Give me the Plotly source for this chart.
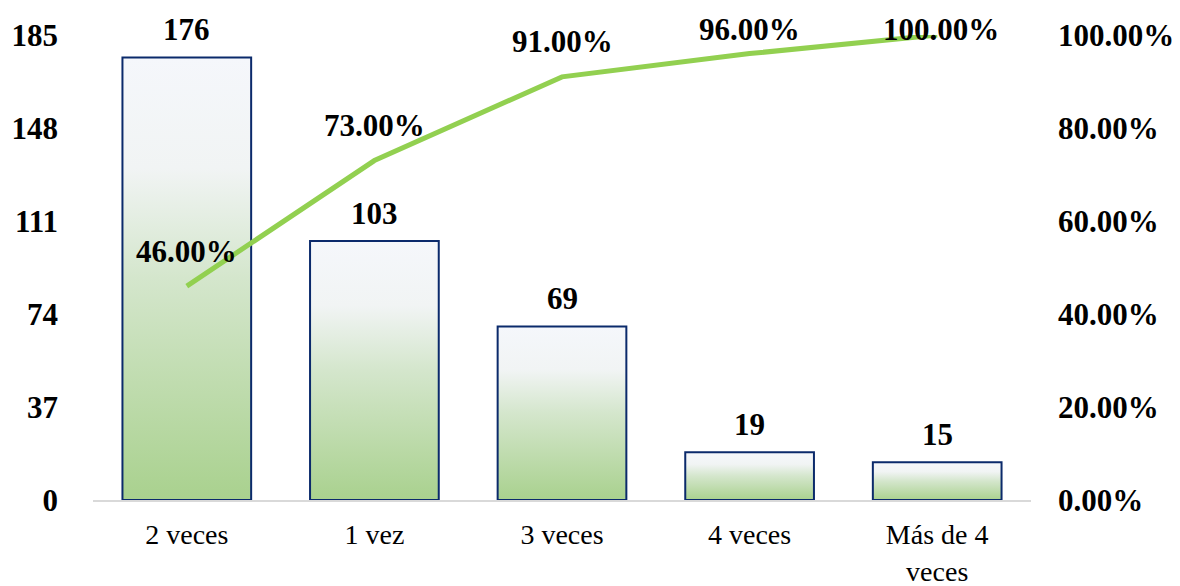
import plotly.graph_objects as go

categories = ["2 veces", "1 vez", "3 veces", "4 veces", "Más de 4<br>veces"]
counts = [176, 103, 69, 19, 15]
cumulative_pct = [46.0, 73.0, 91.0, 96.0, 100.0]
left_ticks = [0, 37, 74, 111, 148, 185]
right_ticks = [0, 20, 40, 60, 80, 100]

W, H = 1180, 586
M_L, M_R, M_T, M_B = 93, 149, 35, 86
PLOT_H = H - M_T - M_B

BAR_WIDTH = 0.686
FONT = "Liberation Serif"
gradient = [[0.0, "#A9D18E"], [0.5, "#D4E6CC"], [0.75, "#F1F4F4"], [1.0, "#F5F7FB"]]

fig = go.Figure()

# bars drawn as filled polygons so each one carries its own vertical gradient
for i, v in enumerate(counts):
    x0, x1 = i - BAR_WIDTH / 2, i + BAR_WIDTH / 2
    fig.add_trace(go.Scatter(
        x=[x0, x0, x1, x1, x0], y=[0, v, v, 0, 0],
        mode="lines", fill="toself",
        line=dict(color="#0B2A6B", width=2),
        fillgradient=dict(type="vertical", colorscale=gradient, start=0, stop=v),
        hoverinfo="skip", showlegend=False,
    ))
    fig.add_annotation(x=i, y=v, text=f"<b>{v}</b>", showarrow=False,
                       yshift=28, font=dict(family=FONT, size=31, color="black"))

# cumulative percentage line on the secondary axis
fig.add_trace(go.Scatter(
    x=list(range(len(categories))), y=cumulative_pct, yaxis="y2",
    mode="lines", line=dict(color="#92D050", width=5),
    hoverinfo="skip", showlegend=False,
))
for i, p in enumerate(cumulative_pct):
    # labels sit above the point but are kept inside the top of the chart
    point_px = M_T + (100 - p) / 100 * PLOT_H
    shift = min(35, point_px - 29)
    fig.add_annotation(x=i, y=p, yref="y2", text=f"<b>{p:.2f}%</b>", showarrow=False,
                       yshift=shift, xshift=4 if shift < 20 else 0,
                       font=dict(family=FONT, size=31, color="black"))

fig.update_layout(
    width=W, height=H,
    margin=dict(l=M_L, r=M_R, t=M_T, b=M_B),
    paper_bgcolor="white", plot_bgcolor="white",
    font=dict(family=FONT, color="black"),
    xaxis=dict(
        range=[-0.5, len(categories) - 0.5],
        tickvals=list(range(len(categories))), ticktext=categories,
        tickfont=dict(family=FONT, size=28, color="black"),
        showgrid=False, zeroline=False,
        showline=True, linecolor="#D9D9D9", linewidth=1.5,
        ticks="", ticklabelstandoff=9, automargin=False,
    ),
    yaxis=dict(
        range=[0, 185], tickvals=left_ticks,
        ticktext=[f"<b>{t}</b>" for t in left_ticks],
        tickfont=dict(family=FONT, size=31, color="black"),
        showgrid=False, zeroline=False, showline=False,
        ticklabelstandoff=34, automargin=False,
    ),
    yaxis2=dict(
        range=[0, 100], tickvals=right_ticks,
        ticktext=[f"<b>{t:.2f}%</b>" for t in right_ticks],
        tickfont=dict(family=FONT, size=31, color="black"),
        overlaying="y", side="right",
        showgrid=False, zeroline=False, showline=False,
        ticklabelstandoff=26, automargin=False,
    ),
)

fig.write_html("out.html")
